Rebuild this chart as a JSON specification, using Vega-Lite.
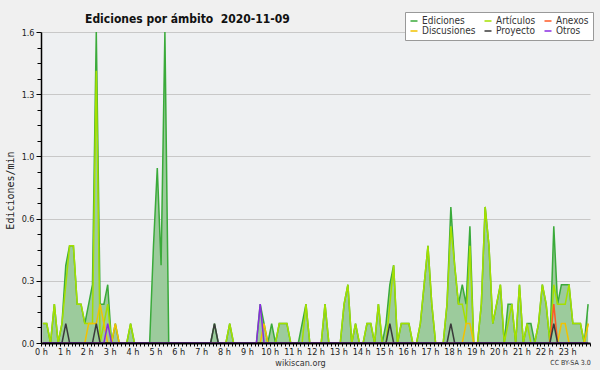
{
"$schema": "https://vega.github.io/schema/vega-lite/v6.json",
"width": 549, "height": 311,
"autosize": {"type": "none"},
"padding": {"left": 41, "top": 32, "right": 10, "bottom": 27},
"background": "#f0f0f0",
"view": {"fill": "#eef0f2", "stroke": null},
"title": {"text": "Ediciones por ámbito \u00a02020-11-09", "anchor": "start", "frame": "group", "dx": 44, "dy": 18, "offset": 4, "font": "DejaVu Sans Condensed", "fontSize": 12, "fontWeight": "bold", "color": "#111"},
"data": {"values": [
{"t":5,"e":0.1,"a":0.1,"x":0,"d":0,"p":0,"o":0},
{"t":15,"e":0.1,"a":0.1,"x":0,"d":0,"p":0,"o":0},
{"t":25,"e":0,"a":0,"x":0,"d":0,"p":0,"o":0},
{"t":35,"e":0.2,"a":0.2,"x":0,"d":0,"p":0,"o":0},
{"t":45,"e":0,"a":0,"x":0,"d":0,"p":0,"o":0},
{"t":55,"e":0.1,"a":0.1,"x":0,"d":0,"p":0,"o":0},
{"t":65,"e":0.4,"a":0.3,"x":0,"d":0,"p":0.1,"o":0},
{"t":75,"e":0.5,"a":0.5,"x":0,"d":0,"p":0,"o":0},
{"t":85,"e":0.5,"a":0.5,"x":0,"d":0,"p":0,"o":0},
{"t":95,"e":0.2,"a":0.2,"x":0,"d":0,"p":0,"o":0},
{"t":105,"e":0.2,"a":0.2,"x":0,"d":0,"p":0,"o":0},
{"t":115,"e":0.1,"a":0.1,"x":0,"d":0,"p":0,"o":0},
{"t":125,"e":0.2,"a":0.1,"x":0,"d":0.1,"p":0,"o":0},
{"t":135,"e":0.3,"a":0.1,"x":0,"d":0.1,"p":0,"o":0},
{"t":145,"e":1.6,"a":1.4,"x":0,"d":0.1,"p":0.1,"o":0},
{"t":155,"e":0.2,"a":0,"x":0,"d":0.2,"p":0,"o":0},
{"t":165,"e":0.2,"a":0.1,"x":0,"d":0.1,"p":0,"o":0},
{"t":175,"e":0.3,"a":0.2,"x":0,"d":0,"p":0,"o":0.1},
{"t":185,"e":0,"a":0,"x":0,"d":0,"p":0,"o":0},
{"t":195,"e":0.1,"a":0,"x":0,"d":0.1,"p":0,"o":0},
{"t":205,"e":0,"a":0,"x":0,"d":0,"p":0,"o":0},
{"t":215,"e":0,"a":0,"x":0,"d":0,"p":0,"o":0},
{"t":225,"e":0,"a":0,"x":0,"d":0,"p":0,"o":0},
{"t":235,"e":0.1,"a":0.1,"x":0,"d":0,"p":0,"o":0},
{"t":245,"e":0,"a":0,"x":0,"d":0,"p":0,"o":0},
{"t":255,"e":0,"a":0,"x":0,"d":0,"p":0,"o":0},
{"t":265,"e":0,"a":0,"x":0,"d":0,"p":0,"o":0},
{"t":275,"e":0,"a":0,"x":0,"d":0,"p":0,"o":0},
{"t":285,"e":0,"a":0,"x":0,"d":0,"p":0,"o":0},
{"t":295,"e":0.5,"a":0,"x":0,"d":0,"p":0,"o":0},
{"t":305,"e":0.9,"a":0,"x":0,"d":0,"p":0,"o":0},
{"t":315,"e":0.4,"a":0,"x":0,"d":0,"p":0,"o":0},
{"t":325,"e":1.6,"a":0,"x":0,"d":0,"p":0,"o":0},
{"t":335,"e":0,"a":0,"x":0,"d":0,"p":0,"o":0},
{"t":345,"e":0,"a":0,"x":0,"d":0,"p":0,"o":0},
{"t":355,"e":0,"a":0,"x":0,"d":0,"p":0,"o":0},
{"t":365,"e":0,"a":0,"x":0,"d":0,"p":0,"o":0},
{"t":375,"e":0,"a":0,"x":0,"d":0,"p":0,"o":0},
{"t":385,"e":0,"a":0,"x":0,"d":0,"p":0,"o":0},
{"t":395,"e":0,"a":0,"x":0,"d":0,"p":0,"o":0},
{"t":405,"e":0,"a":0,"x":0,"d":0,"p":0,"o":0},
{"t":415,"e":0,"a":0,"x":0,"d":0,"p":0,"o":0},
{"t":425,"e":0,"a":0,"x":0,"d":0,"p":0,"o":0},
{"t":435,"e":0,"a":0,"x":0,"d":0,"p":0,"o":0},
{"t":445,"e":0,"a":0,"x":0,"d":0,"p":0,"o":0},
{"t":455,"e":0.1,"a":0,"x":0,"d":0,"p":0.1,"o":0},
{"t":465,"e":0,"a":0,"x":0,"d":0,"p":0,"o":0},
{"t":475,"e":0,"a":0,"x":0,"d":0,"p":0,"o":0},
{"t":485,"e":0,"a":0,"x":0,"d":0,"p":0,"o":0},
{"t":495,"e":0.1,"a":0.1,"x":0,"d":0,"p":0,"o":0},
{"t":505,"e":0,"a":0,"x":0,"d":0,"p":0,"o":0},
{"t":515,"e":0,"a":0,"x":0,"d":0,"p":0,"o":0},
{"t":525,"e":0,"a":0,"x":0,"d":0,"p":0,"o":0},
{"t":535,"e":0,"a":0,"x":0,"d":0,"p":0,"o":0},
{"t":545,"e":0,"a":0,"x":0,"d":0,"p":0,"o":0},
{"t":555,"e":0,"a":0,"x":0,"d":0,"p":0,"o":0},
{"t":565,"e":0,"a":0,"x":0,"d":0,"p":0,"o":0},
{"t":575,"e":0.2,"a":0,"x":0,"d":0,"p":0,"o":0.2},
{"t":585,"e":0.1,"a":0,"x":0,"d":0.1,"p":0,"o":0},
{"t":595,"e":0,"a":0,"x":0,"d":0,"p":0,"o":0},
{"t":605,"e":0.1,"a":0,"x":0,"d":0,"p":0,"o":0},
{"t":615,"e":0,"a":0,"x":0,"d":0,"p":0,"o":0},
{"t":625,"e":0.1,"a":0.1,"x":0,"d":0,"p":0,"o":0},
{"t":635,"e":0.1,"a":0.1,"x":0,"d":0,"p":0,"o":0},
{"t":645,"e":0.1,"a":0.1,"x":0,"d":0,"p":0,"o":0},
{"t":655,"e":0,"a":0,"x":0,"d":0,"p":0,"o":0},
{"t":665,"e":0,"a":0,"x":0,"d":0,"p":0,"o":0},
{"t":675,"e":0,"a":0,"x":0,"d":0,"p":0,"o":0},
{"t":685,"e":0.1,"a":0,"x":0,"d":0,"p":0,"o":0},
{"t":695,"e":0.2,"a":0.2,"x":0,"d":0,"p":0,"o":0},
{"t":705,"e":0,"a":0,"x":0,"d":0,"p":0,"o":0},
{"t":715,"e":0,"a":0,"x":0,"d":0,"p":0,"o":0},
{"t":725,"e":0,"a":0,"x":0,"d":0,"p":0,"o":0},
{"t":735,"e":0,"a":0,"x":0,"d":0,"p":0,"o":0},
{"t":745,"e":0.2,"a":0.2,"x":0,"d":0,"p":0,"o":0},
{"t":755,"e":0,"a":0,"x":0,"d":0,"p":0,"o":0},
{"t":765,"e":0,"a":0,"x":0,"d":0,"p":0,"o":0},
{"t":775,"e":0,"a":0,"x":0,"d":0,"p":0,"o":0},
{"t":785,"e":0,"a":0,"x":0,"d":0,"p":0,"o":0},
{"t":795,"e":0.2,"a":0.2,"x":0,"d":0,"p":0,"o":0},
{"t":805,"e":0.3,"a":0.3,"x":0,"d":0,"p":0,"o":0},
{"t":815,"e":0,"a":0,"x":0,"d":0,"p":0,"o":0},
{"t":825,"e":0.1,"a":0.1,"x":0,"d":0,"p":0,"o":0},
{"t":835,"e":0,"a":0,"x":0,"d":0,"p":0,"o":0},
{"t":845,"e":0,"a":0,"x":0,"d":0,"p":0,"o":0},
{"t":855,"e":0.1,"a":0.1,"x":0,"d":0,"p":0,"o":0},
{"t":865,"e":0.1,"a":0.1,"x":0,"d":0,"p":0,"o":0},
{"t":875,"e":0,"a":0,"x":0,"d":0,"p":0,"o":0},
{"t":885,"e":0.2,"a":0.2,"x":0,"d":0,"p":0,"o":0},
{"t":895,"e":0,"a":0,"x":0,"d":0,"p":0,"o":0},
{"t":905,"e":0.1,"a":0,"x":0,"d":0,"p":0,"o":0},
{"t":915,"e":0.3,"a":0.2,"x":0,"d":0,"p":0.1,"o":0},
{"t":925,"e":0.4,"a":0.4,"x":0,"d":0,"p":0,"o":0},
{"t":935,"e":0,"a":0,"x":0,"d":0,"p":0,"o":0},
{"t":945,"e":0.1,"a":0.1,"x":0,"d":0,"p":0,"o":0},
{"t":955,"e":0.1,"a":0.1,"x":0,"d":0,"p":0,"o":0},
{"t":965,"e":0.1,"a":0.1,"x":0,"d":0,"p":0,"o":0},
{"t":975,"e":0,"a":0,"x":0,"d":0,"p":0,"o":0},
{"t":985,"e":0,"a":0,"x":0,"d":0,"p":0,"o":0},
{"t":995,"e":0.1,"a":0.1,"x":0,"d":0,"p":0,"o":0},
{"t":1005,"e":0.3,"a":0.3,"x":0,"d":0,"p":0,"o":0},
{"t":1015,"e":0.5,"a":0.5,"x":0,"d":0,"p":0,"o":0},
{"t":1025,"e":0.2,"a":0.2,"x":0,"d":0,"p":0,"o":0},
{"t":1035,"e":0,"a":0,"x":0,"d":0,"p":0,"o":0},
{"t":1045,"e":0,"a":0,"x":0,"d":0,"p":0,"o":0},
{"t":1055,"e":0,"a":0,"x":0,"d":0,"p":0,"o":0},
{"t":1065,"e":0.2,"a":0.2,"x":0,"d":0,"p":0,"o":0},
{"t":1075,"e":0.7,"a":0.6,"x":0,"d":0,"p":0.1,"o":0},
{"t":1085,"e":0.4,"a":0.4,"x":0,"d":0,"p":0,"o":0},
{"t":1095,"e":0.2,"a":0.2,"x":0,"d":0,"p":0,"o":0},
{"t":1105,"e":0.3,"a":0.2,"x":0,"d":0,"p":0,"o":0},
{"t":1115,"e":0.2,"a":0.1,"x":0,"d":0.1,"p":0,"o":0},
{"t":1125,"e":0.6,"a":0.5,"x":0,"d":0.1,"p":0,"o":0},
{"t":1135,"e":0,"a":0,"x":0,"d":0,"p":0,"o":0},
{"t":1145,"e":0,"a":0,"x":0,"d":0,"p":0,"o":0},
{"t":1155,"e":0.2,"a":0.2,"x":0,"d":0,"p":0,"o":0},
{"t":1165,"e":0.7,"a":0.7,"x":0,"d":0,"p":0,"o":0},
{"t":1175,"e":0.5,"a":0.5,"x":0,"d":0,"p":0,"o":0},
{"t":1185,"e":0.1,"a":0.1,"x":0,"d":0,"p":0,"o":0},
{"t":1195,"e":0.2,"a":0.2,"x":0,"d":0,"p":0,"o":0},
{"t":1205,"e":0.3,"a":0.3,"x":0,"d":0,"p":0,"o":0},
{"t":1215,"e":0,"a":0,"x":0,"d":0,"p":0,"o":0},
{"t":1225,"e":0.2,"a":0.1,"x":0,"d":0,"p":0,"o":0},
{"t":1235,"e":0.2,"a":0.2,"x":0,"d":0,"p":0,"o":0},
{"t":1245,"e":0,"a":0,"x":0,"d":0,"p":0,"o":0},
{"t":1255,"e":0.3,"a":0.3,"x":0,"d":0,"p":0,"o":0},
{"t":1265,"e":0,"a":0,"x":0,"d":0,"p":0,"o":0},
{"t":1275,"e":0.1,"a":0.1,"x":0,"d":0,"p":0,"o":0},
{"t":1285,"e":0.1,"a":0,"x":0,"d":0,"p":0,"o":0},
{"t":1295,"e":0,"a":0,"x":0,"d":0,"p":0,"o":0},
{"t":1305,"e":0.1,"a":0.1,"x":0,"d":0,"p":0,"o":0},
{"t":1315,"e":0.3,"a":0.3,"x":0,"d":0,"p":0,"o":0},
{"t":1325,"e":0.2,"a":0.2,"x":0,"d":0,"p":0,"o":0},
{"t":1335,"e":0,"a":0,"x":0,"d":0,"p":0,"o":0},
{"t":1345,"e":0.6,"a":0.3,"x":0.2,"d":0,"p":0.1,"o":0},
{"t":1355,"e":0.2,"a":0.2,"x":0,"d":0,"p":0,"o":0},
{"t":1365,"e":0.3,"a":0.2,"x":0,"d":0.1,"p":0,"o":0},
{"t":1375,"e":0.3,"a":0.2,"x":0,"d":0.1,"p":0,"o":0},
{"t":1385,"e":0.3,"a":0.3,"x":0,"d":0,"p":0,"o":0},
{"t":1395,"e":0.1,"a":0.1,"x":0,"d":0,"p":0,"o":0},
{"t":1405,"e":0.1,"a":0.1,"x":0,"d":0,"p":0,"o":0},
{"t":1415,"e":0.1,"a":0.1,"x":0,"d":0,"p":0,"o":0},
{"t":1425,"e":0,"a":0,"x":0,"d":0,"p":0,"o":0},
{"t":1435,"e":0.2,"a":0.1,"x":0,"d":0.1,"p":0,"o":0}
]},
"encoding": {
  "x": {"field": "t", "type": "quantitative", "scale": {"domain": [0, 1440], "nice": false, "zero": false},
    "axis": {"tickCount": 144, "labelExpr": "datum.value % 60 == 0 && datum.value < 1440 ? (datum.value / 60) + ' h' : ''", "labelOverlap": false, "labelFlush": false, "labelAlign": "center", "labelDx": 6, "labelBaseline": "top", "labelPadding": 1, "labelFont": "DejaVu Sans Condensed", "labelFontSize": 9, "labelColor": "#222", "tickSize": 3, "tickColor": "#000", "domainColor": "#000", "domainWidth": 2, "grid": false, "zindex": 1,
      "title": "wikiscan.org", "titleX": 259, "titleY": 19, "titleAlign": "center", "titleBaseline": "middle", "titleFont": "DejaVu Sans Condensed", "titleFontSize": 9, "titleFontWeight": "normal", "titleColor": "#333"}}
},
"layer": [
  {"mark": {"type": "area", "color": "#9ccb9c", "interpolate": "linear"},
   "encoding": {"y": {"field": "e", "type": "quantitative", "scale": {"domain": [0, 1.6], "nice": false},
     "axis": {"values": [0,0.08,0.16,0.24,0.32,0.4,0.48,0.56,0.64,0.72,0.8,0.88,0.96,1.04,1.12,1.2,1.28,1.36,1.44,1.52,1.6],
       "labelExpr": "indexof([0,0.32,0.64,0.96,1.28,1.6], datum.value) >= 0 ? format(datum.value, '.1f') : ''",
       "labelOverlap": false, "labelFlush": false, "labelFont": "DejaVu Sans Condensed", "labelFontSize": 9, "labelColor": "#222", "labelPadding": 2,
       "grid": true, "gridColor": "#c8c8c8",
       "gridOpacity": {"condition": {"test": "indexof([0,0.32,0.64,0.96,1.28,1.6], datum.value) >= 0", "value": 1}, "value": 0},
       "tickSize": {"condition": {"test": "indexof([0,0.32,0.64,0.96,1.28,1.6], datum.value) >= 0", "value": 5}, "value": 4},
       "tickColor": "#000", "domainColor": "#000", "domainWidth": 1.5,
       "title": "Ediciones/min", "titleFont": "DejaVu Sans Mono", "titleFontSize": 10, "titleFontWeight": "normal", "titleColor": "#222", "titleX": -31, "titleY": 158, "titleAngle": 270, "titleAlign": "center", "titleBaseline": "middle"}}}},
  {"transform": [{"fold": ["e", "a", "x", "d", "p", "o"], "as": ["k", "v"]}],
   "mark": {"type": "line", "strokeWidth": 1.5, "interpolate": "linear"},
   "encoding": {
     "y": {"field": "v", "type": "quantitative", "scale": {"domain": [0, 1.6], "nice": false},
       "axis": {"orient": "right", "title": "CC BY-SA 3.0", "labels": false, "ticks": false, "domain": false, "grid": false, "titleAngle": 0, "titleX": -20, "titleY": 330, "titleAlign": "center", "titleBaseline": "middle", "titleFont": "DejaVu Sans Condensed", "titleFontSize": 7, "titleFontWeight": "normal", "titleColor": "#333"}},
     "color": {"field": "k", "type": "nominal",
       "scale": {"domain": ["e", "a", "x", "d", "p", "o"], "range": ["#3aaa3a", "#a4e000", "#ff5a26", "#f2c200", "#3a3a3a", "#8a2be2"]},
       "legend": {"orient": "none", "legendX": 364, "legendY": -20, "direction": "horizontal", "columns": 3, "title": null, "symbolType": "stroke", "symbolSize": 49, "symbolStrokeWidth": 1.5,
         "labelFont": "DejaVu Sans Condensed", "labelFontSize": 10, "labelColor": "#333", "labelOffset": 3,
         "fillColor": "#ffffff", "strokeColor": "#999", "padding": 4, "columnPadding": 5, "rowPadding": 0,
         "labelExpr": "datum.label == 'e' ? 'Ediciones' : datum.label == 'a' ? 'Artículos' : datum.label == 'x' ? 'Anexos' : datum.label == 'd' ? 'Discusiones' : datum.label == 'p' ? 'Proyecto' : 'Otros'"}}
   }}
],
"resolve": {"axis": {"y": "independent"}}
}
